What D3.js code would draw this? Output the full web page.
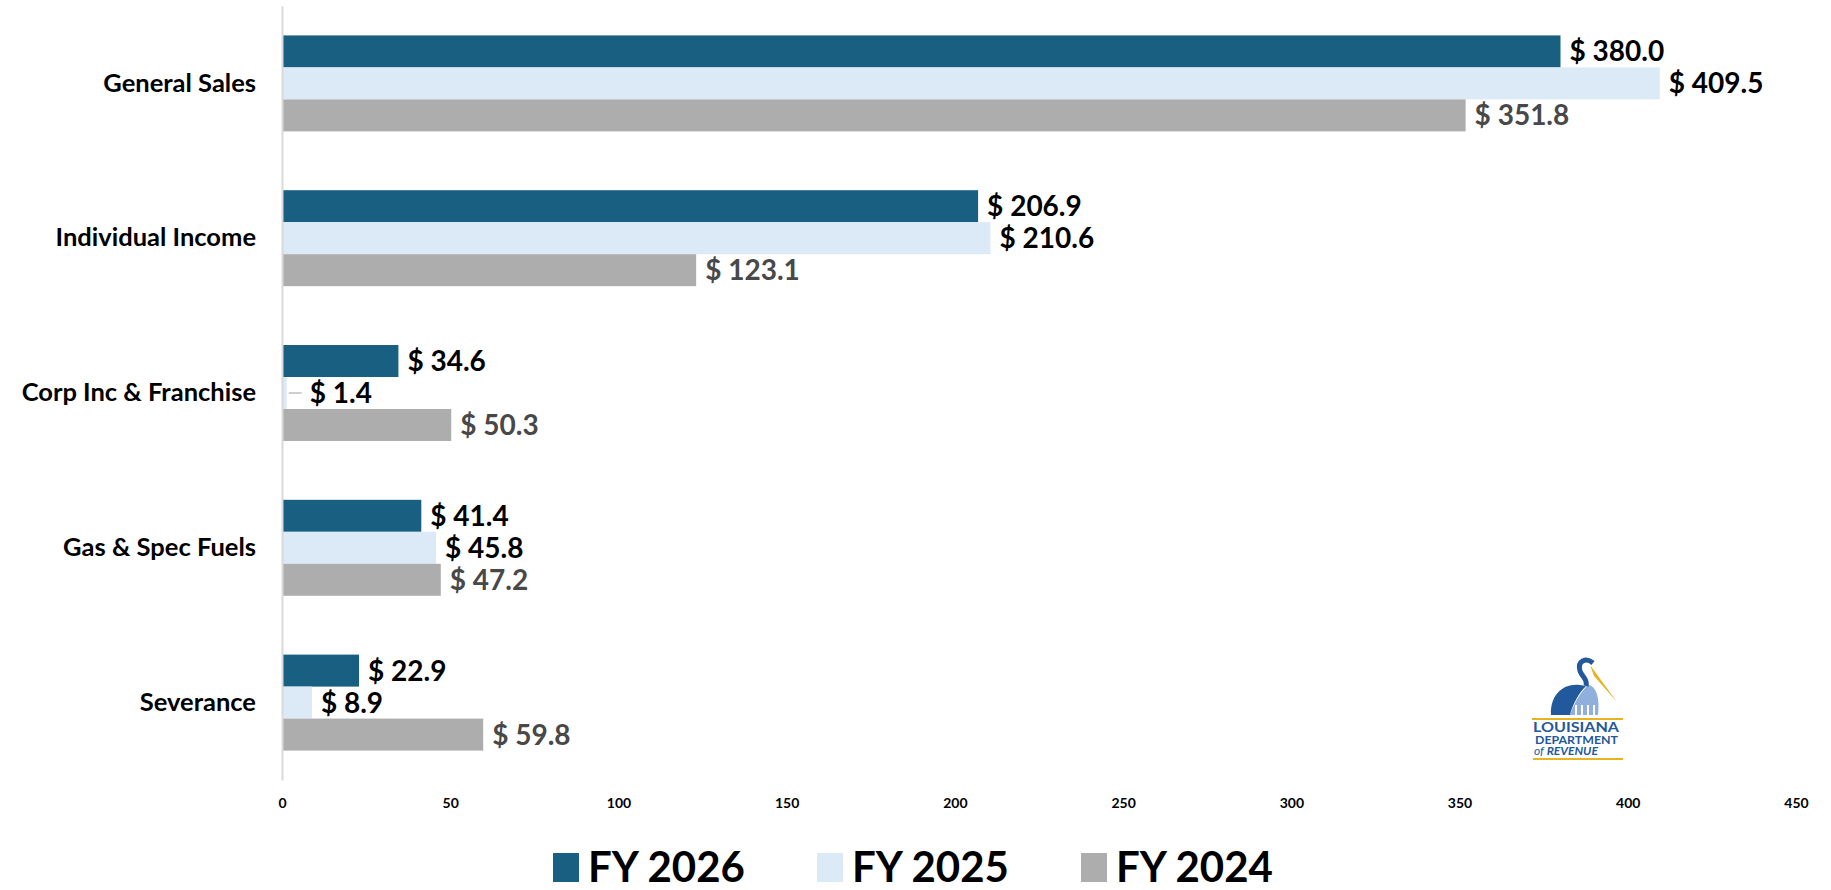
<!DOCTYPE html>
<html>
<head>
<meta charset="utf-8">
<script src="https://cdn.jsdelivr.net/npm/d3@7"></script>
<style>
  body { margin: 0; background: #fff; }
  svg { display: block; font-family: Lato, "Open Sans", sans-serif; }
</style>
</head>
<body>
<svg id="chart"></svg>
<script>
// data
var categories = ["General Sales", "Individual Income", "Corp Inc & Franchise", "Gas & Spec Fuels", "Severance"];
var seriesNames = ["FY 2026", "FY 2025", "FY 2024"];
var fy2026 = [380.0, 206.9, 34.6, 41.4, 22.9];
var fy2025 = [409.5, 210.6, 1.4, 45.8, 8.9];
var fy2024 = [351.8, 123.1, 50.3, 47.2, 59.8];
var xTicks = [0, 50, 100, 150, 200, 250, 300, 350, 400, 450];

var colors = { "FY 2026": "#185f82", "FY 2025": "#dce9f6", "FY 2024": "#adadad" };
var labelColors = { "FY 2026": "#000", "FY 2025": "#000", "FY 2024": "#484848" };

var svgWidth = 1831, svgHeight = 890;

var svg = d3.select("#chart")
    .attr("width", svgWidth)
    .attr("height", svgHeight);

var seriesValues = { "FY 2026": fy2026, "FY 2025": fy2025, "FY 2024": fy2024 };
var rows = categories.map(function(c, i) {
    return {
        category: c,
        values: seriesNames.map(function(s) { return { series: s, value: seriesValues[s][i] }; })
    };
});

var x = d3.scaleLinear()
    .domain([0, 450])
    .range([282, 1796]);

var y = d3.scaleBand()
    .domain(categories)
    .range([6, 780])
    .paddingInner(0.38)
    .paddingOuter(0.19);

var y1 = d3.scaleBand()
    .domain(seriesNames)
    .range([0, y.bandwidth()]);

// x tick labels only
var xAxis = svg.append("g")
    .attr("transform", "translate(0,790)")
    .call(d3.axisBottom(x).tickValues(xTicks).tickSize(0).tickPadding(8));
xAxis.select(".domain").remove();
xAxis.selectAll("text")
    .attr("font-family", "Lato, sans-serif")
    .attr("font-size", 14)
    .attr("font-weight", "bold")
    .attr("fill", "#000");

// bars
var groups = svg.append("g")
    .selectAll("g")
    .data(rows)
    .enter().append("g")
    .attr("transform", function(d) { return "translate(0," + y(d.category) + ")"; });

groups.selectAll("rect")
    .data(function(d) { return d.values; })
    .enter().append("rect")
    .attr("x", x(0))
    .attr("y", function(d) { return y1(d.series); })
    .attr("width", function(d) { return x(d.value) - x(0); })
    .attr("height", y1.bandwidth())
    .attr("fill", function(d) { return colors[d.series]; });

// value labels (tiny bars get pushed out with a leader line)
function labelOffset(d) {
    return (x(d.value) - x(0) < 10) ? 23 : 9;
}

groups.selectAll("line.leader")
    .data(function(d) { return d.values.filter(function(v) { return x(v.value) - x(0) < 10; }); })
    .enter().append("line")
    .attr("class", "leader")
    .attr("x1", function(d) { return x(d.value) + 2; })
    .attr("x2", function(d) { return x(d.value) + 15; })
    .attr("y1", function(d) { return y1(d.series) + y1.bandwidth() / 2; })
    .attr("y2", function(d) { return y1(d.series) + y1.bandwidth() / 2; })
    .attr("stroke", "#bfbfbf")
    .attr("stroke-width", 1.5);

groups.selectAll("text.value")
    .data(function(d) { return d.values; })
    .enter().append("text")
    .attr("class", "value")
    .attr("x", function(d) { return x(d.value) + labelOffset(d); })
    .attr("y", function(d) { return y1(d.series) + y1.bandwidth() / 2; })
    .attr("dy", "0.36em")
    .attr("font-size", 28)
    .attr("font-weight", "bold")
    .attr("fill", function(d) { return labelColors[d.series]; })
    .text(function(d) { return "$ " + d3.format(".1f")(d.value); });

// category axis
var yAxis = svg.append("g")
    .attr("transform", "translate(" + x(0) + ",0)")
    .call(d3.axisLeft(y).tickSize(0).tickSizeOuter(0).tickPadding(26));
yAxis.select(".domain")
    .attr("stroke", "#d9d9d9")
    .attr("stroke-width", 2);
yAxis.selectAll("text")
    .attr("font-family", "Lato, sans-serif")
    .attr("font-size", 25.5)
    .attr("font-weight", "bold")
    .attr("fill", "#000");

// legend
var legend = svg.append("g")
    .selectAll("g")
    .data(seriesNames)
    .enter().append("g")
    .attr("transform", function(d, i) { return "translate(" + (553 + i * 264) + ",853)"; });

legend.append("rect")
    .attr("width", 26)
    .attr("height", 29)
    .attr("fill", function(d) { return colors[d]; });

legend.append("text")
    .attr("x", 35)
    .attr("y", 29)
    .attr("font-size", 42)
    .attr("font-weight", "bold")
    .attr("fill", "#000")
    .text(function(d) { return d; });

// Louisiana Department of Revenue logo (simplified)
var logo = svg.append("g").attr("transform", "translate(1530,655)");
logo.append("path")
    .attr("d", "M40,60 C44,48 50,38 58,30 C66,31 70,42 68,60 Z")
    .attr("fill", "#8fb0dc");
logo.selectAll("line.col")
    .data([46, 52, 58, 64])
    .enter().append("line")
    .attr("x1", function(d) { return d; })
    .attr("x2", function(d) { return d; })
    .attr("y1", 50).attr("y2", 61)
    .attr("stroke", "#fff").attr("stroke-width", 2);
logo.append("path")
    .attr("d", "M21,60 C20,40 33,28 50,30 L56,31 C49,38 43,48 40,60 Z")
    .attr("fill", "#22589c");
logo.append("path")
    .attr("d", "M63,8 C56,2 47,6 50,16 C52,22 58,24 56,31")
    .attr("fill", "none")
    .attr("stroke", "#22589c")
    .attr("stroke-width", 5);
logo.append("path")
    .attr("d", "M60,10 L87,47 L64,21 Z")
    .attr("fill", "#e6b323");
logo.append("line")
    .attr("x1", 2).attr("x2", 93).attr("y1", 64).attr("y2", 64)
    .attr("stroke", "#e6b323").attr("stroke-width", 2);
logo.append("text")
    .attr("x", 3).attr("y", 77)
    .attr("textLength", 86).attr("lengthAdjust", "spacingAndGlyphs")
    .attr("font-size", 13).attr("font-weight", "bold").attr("fill", "#22589c")
    .text("LOUISIANA");
logo.append("text")
    .attr("x", 5).attr("y", 89)
    .attr("textLength", 83).attr("lengthAdjust", "spacingAndGlyphs")
    .attr("font-size", 11).attr("font-weight", "bold").attr("fill", "#22589c")
    .text("DEPARTMENT");
var rev = logo.append("text")
    .attr("x", 4).attr("y", 100)
    .attr("font-size", 12).attr("font-style", "italic").attr("fill", "#22589c");
rev.append("tspan").text("of ");
rev.append("tspan").attr("font-weight", "bold").text("REVENUE");
logo.append("line")
    .attr("x1", 3).attr("x2", 93).attr("y1", 104).attr("y2", 104)
    .attr("stroke", "#e6b323").attr("stroke-width", 2);
</script>
</body>
</html>
